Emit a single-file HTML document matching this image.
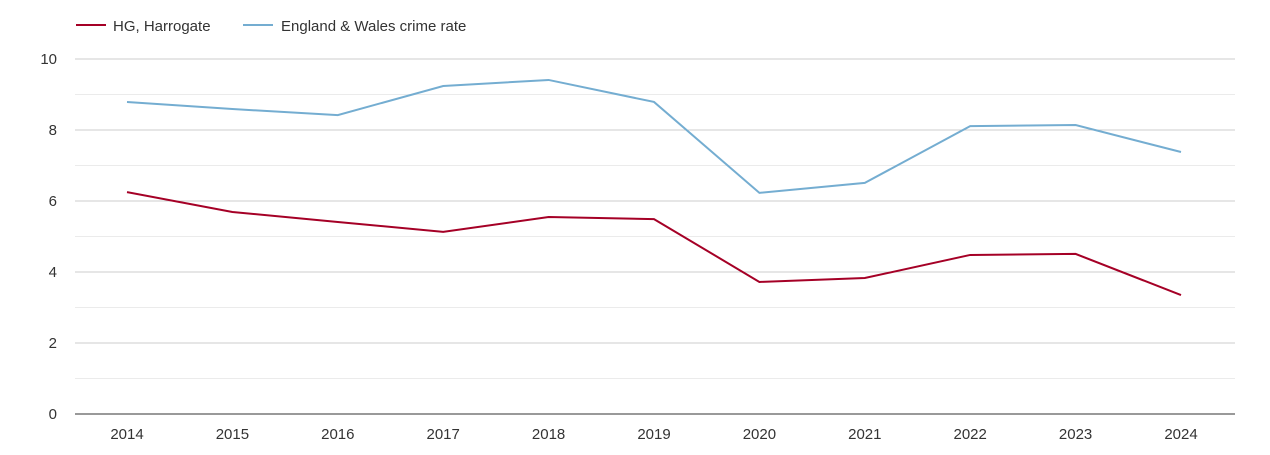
<!DOCTYPE html>
<html><head><meta charset="utf-8"><style>
body{margin:0;background:#fff;font-family:"Liberation Sans",Arial,sans-serif}
svg text{font-family:"Liberation Sans",Arial,sans-serif}
</style></head><body>
<svg id="chart" width="1270" height="450">
<g id="grid"></g>
<g id="yt"></g>
<g id="xt"></g>
<g id="series"></g>
<g>
<g><line x1="76" y1="25" x2="106" y2="25" stroke="#a50026" stroke-width="2"/><text x="113" y="31" font-size="15" fill="#333">HG, Harrogate</text></g>
<g><line x1="243" y1="25" x2="273" y2="25" stroke="#74add1" stroke-width="2"/><text x="281" y="31" font-size="15" fill="#333">England &amp; Wales crime rate</text></g>
</g>
</svg>
<script>
const years=[2014,2015,2016,2017,2018,2019,2020,2021,2022,2023,2024];
const harrogate=[6.25,5.69,5.41,5.13,5.55,5.49,3.72,3.83,4.48,4.51,3.35];
const englandWales=[8.79,8.59,8.42,9.24,9.41,8.79,6.23,6.51,8.11,8.14,7.38];
const yTicks=[0,2,4,6,8,10];
const NS="http://www.w3.org/2000/svg";
const L=75,R=1235;
const x=i=>127+i*(1181-127)/(years.length-1);
const y=v=>414-v*35.5;
function mk(t,a,p){const e=document.createElementNS(NS,t);for(const k in a)e.setAttribute(k,a[k]);p.appendChild(e);return e;}
const grid=document.getElementById('grid'),yt=document.getElementById('yt'),xt=document.getElementById('xt'),se=document.getElementById('series');
for(let v=1;v<=10;v+=2){const l=mk('line',{x1:L,x2:R,y1:y(v),y2:y(v),stroke:'#ebebeb'},grid);

}
yTicks.forEach(v=>{if(v>0){const l=mk('line',{x1:L,x2:R,y1:y(v),y2:y(v),stroke:'#ccc'},grid);

}
const t=mk('text',{x:57,y:y(v)+5,'text-anchor':'end','font-size':15,fill:'#333'},yt);t.textContent=v;

});
const ax=mk('line',{x1:L,x2:R,y1:414,y2:414,stroke:'#333'},xt);


years.forEach((yr,i)=>{const t=mk('text',{x:x(i),y:439,'text-anchor':'middle','font-size':15,fill:'#333'},xt);t.textContent=yr;

});
function line(d,c,n){const p=mk('polyline',{points:d.map((v,i)=>x(i)+','+y(v)).join(' '),fill:'none',stroke:c,'stroke-width':2},se);

}
line(englandWales,'#74add1','england-wales-line');
line(harrogate,'#a50026','harrogate-line');
</script>
</body></html>
